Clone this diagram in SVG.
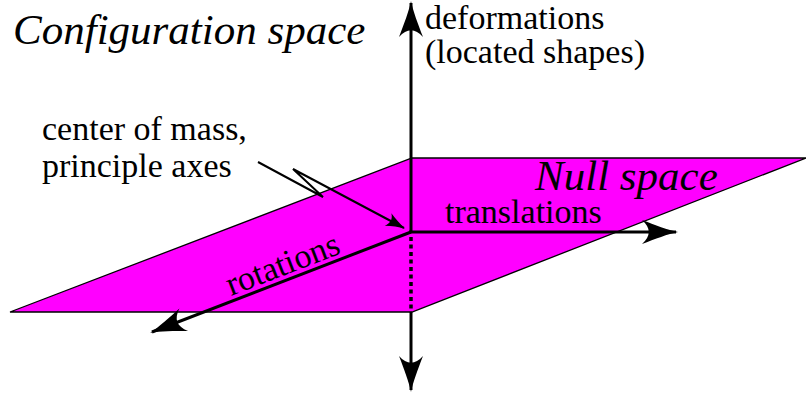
<svg xmlns="http://www.w3.org/2000/svg" width="806" height="400" viewBox="0 0 806 400">
<style>
.ax{stroke:#000;stroke-width:3;fill:none}
</style>
<defs>
<marker id="big" markerUnits="userSpaceOnUse" markerWidth="40" markerHeight="30" refX="0" refY="0" viewBox="-34 -15 38 30" orient="auto" overflow="visible">
<path d="M2,0 C-8,-2 -21,-7 -34,-12 C-25,-4 -25,4 -34,12 C-21,7 -8,2 2,0 Z" fill="#000"/>
</marker>
<marker id="small" markerUnits="userSpaceOnUse" markerWidth="24" markerHeight="16" refX="0" refY="0" viewBox="-20 -8 22 16" orient="auto" overflow="visible">
<path d="M1,0 C-5,-1.5 -12,-4 -18,-7 C-14,-2.5 -14,2.5 -18,7 C-12,4 -5,1.5 1,0 Z" fill="#000"/>
</marker>
</defs>
<g id="plane">
<polygon points="10,312 412,158 806,158 412,312" fill="#ff00ff" stroke="#000" stroke-width="1.3"/>
</g>
<g id="connectors">
<line class="ax" x1="411" y1="232" x2="411" y2="3" marker-end="url(#big)"/>
<line x1="411" y1="237" x2="411" y2="312" stroke="#000" stroke-width="3.5" stroke-dasharray="4 3.5"/>
<line class="ax" x1="411" y1="312" x2="411" y2="390" marker-end="url(#big)"/>
<line class="ax" x1="409" y1="232" x2="676" y2="232" marker-end="url(#big)"/>
<line class="ax" x1="411" y1="232" x2="152" y2="332" marker-end="url(#big)"/>
<polyline points="258,162 323,197 293,169 404,228" fill="none" stroke="#000" stroke-width="2" stroke-linejoin="miter" marker-end="url(#small)"/>
</g>
<g id="title"><text font-family="Liberation Serif" font-style="italic" font-size="43" x="13" y="44">Configuration space</text></g>
<g id="null-space"><text font-family="Liberation Serif" font-style="italic" font-size="43" x="535" y="190">Null space</text></g>
<g id="deformations">
<text font-family="Liberation Serif" font-size="34" x="425" y="29">deformations</text>
<text font-family="Liberation Serif" font-size="34" x="425" y="63">(located shapes)</text>
</g>
<g id="center-label">
<text font-family="Liberation Serif" font-size="34" x="42" y="140">center of mass,</text>
<text font-family="Liberation Serif" font-size="34" x="42" y="177">principle axes</text>
</g>
<g id="translations"><text font-family="Liberation Serif" font-size="34" x="445" y="223">translations</text></g>
<g id="rotations"><text font-family="Liberation Serif" font-size="34" transform="translate(231,296) rotate(-21.15)">rotations</text></g>
</svg>
